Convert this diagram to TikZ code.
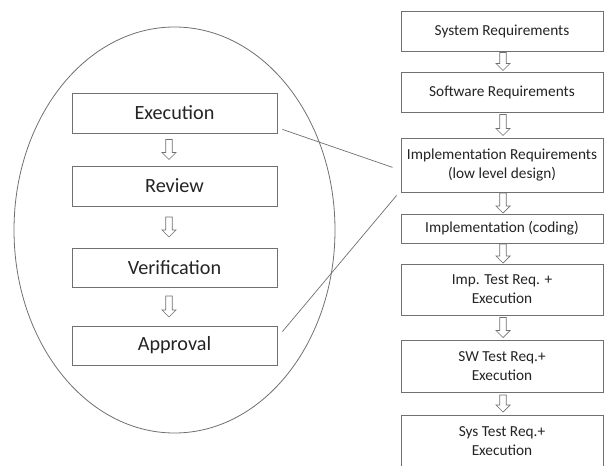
\documentclass[tikz,border=0pt]{standalone}
\usepackage{fontspec}
\setmainfont{Carlito}
\usetikzlibrary{calc,shapes.geometric}

\definecolor{edge}{RGB}{112,112,112}
\definecolor{ink}{RGB}{36,36,36}

% hollow down arrow placed midway between two stacked boxes
% #1 upper node, #2 lower node, #3 arrow length, #4 horizontal offset
\newcommand{\flowarrow}[4]{%
  \begin{scope}[shift={($(#1.south)!0.5!(#2.north)+(#4,0)$)}]
    \pgfmathsetmacro\halflen{#3/2}
    \draw[hollow] (-3.3,-\halflen) -- (3.3,-\halflen) -- (3.3,\halflen-7)
      -- (7,\halflen-7) -- (0,\halflen) -- (-7,\halflen-7)
      -- (-3.3,\halflen-7) -- cycle;
  \end{scope}}

\tikzset{
  box/.style={draw=edge, line width=0.8pt, fill=white, text=ink,
    inner sep=0pt, align=center},
  bigbox/.style={box, minimum width=205, font=\fontsize{20.2}{24}\selectfont},
  smallbox/.style={box, minimum width=202, font=\fontsize{15.3}{19}\selectfont},
  hollow/.style={draw=edge, line width=0.7pt, fill=white, line join=miter},
  link/.style={draw=edge, line width=0.7pt},
  loopring/.style={draw=edge, line width=0.8pt, ellipse, inner sep=0pt}
}

\begin{document}
\begin{tikzpicture}[x=1pt, y=-1pt]
  \useasboundingbox (0,0) rectangle (606,466);
  \fill[white] (0,0) rectangle (606,466);
  \clip (0,0) rectangle (606,466);

  % review loop
  \node[loopring, minimum width=321, minimum height=406] (loop) at (174.5,230) {};

  \node[bigbox, minimum height=40] (exec)   at (174.5,113)   {Execution};
  \node[bigbox, minimum height=40] (review) at (174.5,186)   {Review};
  \node[bigbox, minimum height=39] (verif)  at (174.5,267.5) {Verification};
  \node[bigbox, minimum height=39] (appr)   at (174.5,345.5) {Approval};

  \flowarrow{exec}{review}{20}{-5.5}
  \flowarrow{review}{verif}{20}{-5.5}
  \flowarrow{verif}{appr}{21}{-5.5}

  % development chain
  \node[smallbox, minimum height=40] (sysreq)  at (502,31)    {System Requirements};
  \node[smallbox, minimum height=40] (swreq)   at (502,92)    {Software Requirements};
  \node[smallbox, minimum height=54] (implreq) at (502,165)   {Implementation Requirements\\(low level design)};
  \node[smallbox, minimum height=29] (coding)  at (502,228.5) {Implementation (coding)};
  \node[smallbox, minimum height=51] (imptest) at (502,289.5) {Imp. Test Req. +\\Execution};
  \node[smallbox, minimum height=52] (swtest)  at (502,366)   {SW Test Req.+\\Execution};
  \node[smallbox, minimum height=52] (systest) at (502,441)   {Sys Test Req.+\\Execution};

  \flowarrow{sysreq}{swreq}{18}{1}
  \flowarrow{swreq}{implreq}{21}{1}
  \flowarrow{implreq}{coding}{20}{1}
  \flowarrow{coding}{imptest}{19}{1}
  \flowarrow{imptest}{swtest}{20}{1}
  \flowarrow{swtest}{systest}{17}{1}

  % zoom lines from the loop to the step it details
  \draw[link] ($(exec.south east)+(5,-4)$) -- ($(implreq.south west)+(-8,-25)$);
  \draw[link] ($(appr.north east)+(5,6)$) -- ($(implreq.south west)+(-4,3)$);
\end{tikzpicture}
\end{document}
